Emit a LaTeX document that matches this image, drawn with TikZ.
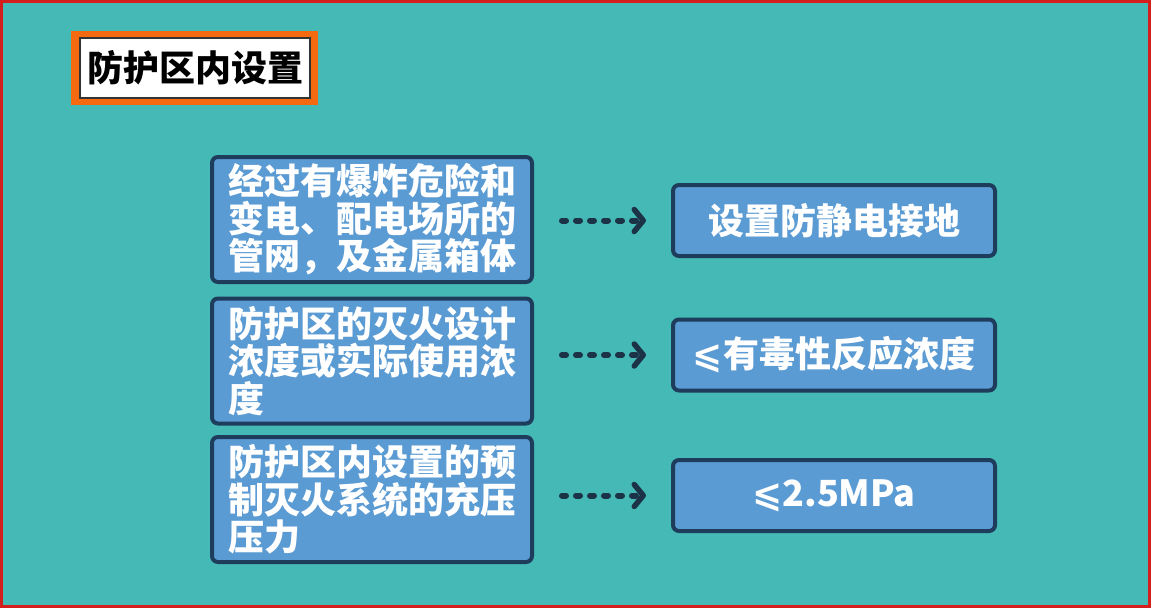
\documentclass[tikz,border=0pt]{standalone}
\usepackage{fontspec}
\usetikzlibrary{arrows.meta}
\newfontfamily\cjk{Noto Sans CJK SC}
\newfontfamily\symf{DejaVu Sans}
\definecolor{teal1}{HTML}{45B9B5}
\definecolor{boxfill}{HTML}{5B9BD3}
\definecolor{boxline}{HTML}{1E3D5C}
\definecolor{arrowc}{HTML}{1C3347}
\definecolor{orange1}{HTML}{F56A10}
\definecolor{redb}{HTML}{D41E1E}
\tikzset{
  x=1pt, y=-1pt,
  lbox/.style={draw=boxline, fill=boxfill, line width=4pt, rounded corners=6pt,
    minimum width=320pt, minimum height=125pt, text width=288pt, align=left,
    inner sep=0pt, text=white, font=\cjk\bfseries\fontsize{36}{37.5}\selectfont},
  rbox/.style={draw=boxline, fill=boxfill, line width=4pt, rounded corners=6pt,
    minimum width=322pt, minimum height=71pt, inner sep=0pt, text=white,
    font=\cjk\bfseries\fontsize{36}{38}\selectfont},
  darrow/.style={draw=arrowc, line width=6pt, line cap=round, dash pattern=on 4pt off 10pt,
    -{Straight Barb[length=9pt, width=22pt, line width=5.5pt, line cap=round, line join=round]},
    shorten <=28pt, shorten >=25pt}
}
\begin{document}
\begin{tikzpicture}
\useasboundingbox (0,0) rectangle (1151,608);
\fill[teal1] (0,0) rectangle (1151,608);
\draw[redb, line width=3pt] (1.5,1.5) rectangle (1149.5,606.5);
% title
\fill[orange1] (71,31) rectangle (318,105);
\node[draw=black!80, line width=2pt, fill=white, minimum width=230pt, minimum height=60pt,
  inner sep=0pt, font=\cjk\bfseries\fontsize{36}{38}\selectfont] (title) at (195,68) {防护区内设置};
% left boxes
\node[lbox] (l1) at (372,219.5) {经过有爆炸危险和\\变电、配电场所的\\管网，及金属箱体};
\node[lbox] (l2) at (372,361) {防护区的灭火设计\\浓度或实际使用浓\\度};
\node[lbox] (l3) at (372,499.5) {防护区内设置的预\\制灭火系统的充压\\压力};
% right boxes
\node[rbox] (r1) at (834,220.5) {设置防静电接地};
\node[rbox] (r2) at (834,355) {{\symf\bfseries ⩽}有毒性反应浓度};
\node[rbox] (r3) at (834,495.5) {{\symf\bfseries ⩽}2.5MPa};
% arrows
\draw[darrow] (l1.east |- r1.west) -- (r1.west);
\draw[darrow] (l2.east |- r2.west) -- (r2.west);
\draw[darrow] (l3.east |- r3.west) -- (r3.west);
\end{tikzpicture}
\end{document}
